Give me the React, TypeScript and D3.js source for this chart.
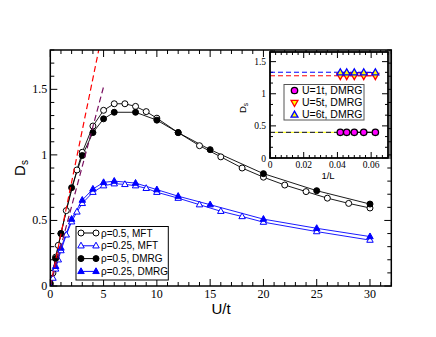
import React from "react";
import * as d3 from "d3";

// main panel data (U/t vs D_s)
const U_MFT05 = [0, 0.25, 0.5, 0.75, 1, 1.5, 2.5, 3, 4, 5, 6, 7, 8, 9, 10, 12, 14, 16, 18, 20, 22, 24, 26, 28, 30];
const D_MFT05 = [0, 0.1, 0.22, 0.31, 0.4, 0.575, 0.885, 1.02, 1.22, 1.34, 1.39, 1.39, 1.37, 1.33, 1.28, 1.17, 1.07, 0.985, 0.9, 0.83, 0.77, 0.72, 0.67, 0.63, 0.595];
const U_MFT025 = [0, 0.25, 0.5, 0.75, 1, 1.5, 2, 2.5, 3, 4, 5, 6, 7, 8, 9, 10, 12, 14, 16, 18, 20, 25, 30];
const D_MFT025 = [0, 0.06, 0.13, 0.2, 0.27, 0.39, 0.49, 0.565, 0.63, 0.715, 0.765, 0.78, 0.775, 0.765, 0.745, 0.715, 0.67, 0.62, 0.57, 0.53, 0.487, 0.415, 0.35];
const U_DMRG05 = [0, 0.5, 1, 2, 3, 4, 5, 6, 8, 10, 12, 15, 20, 25, 30];
const D_DMRG05 = [0.02, 0.21, 0.4, 0.75, 0.995, 1.17, 1.275, 1.325, 1.325, 1.265, 1.17, 1.04, 0.857, 0.727, 0.625];
const U_DMRG025 = [0, 0.5, 1, 2, 3, 4, 5, 6, 8, 10, 12, 15, 20, 25, 30];
const D_DMRG025 = [0, 0.15, 0.29, 0.51, 0.655, 0.74, 0.79, 0.8, 0.785, 0.735, 0.685, 0.62, 0.51, 0.44, 0.377];

// dashed guide lines (start, end)
const redGuideU = [0, 5];
const redGuideD = [0, 1.98];
const purpleGuideU = [0, 5];
const purpleGuideD = [0, 1.52];

const legendLabels = ["ρ=0.5, MFT", "ρ=0.25, MFT", "ρ=0.5, DMRG", "ρ=0.25, DMRG"];

// inset data (1/L vs D_s)
const invL = [0.0417, 0.0455, 0.05, 0.0556, 0.0625];
const D_U1 = [0.4, 0.4, 0.4, 0.4, 0.4];
const D_U5 = [1.28, 1.28, 1.28, 1.28, 1.28];
const D_U6 = [1.33, 1.33, 1.33, 1.33, 1.33];
const extrapU1 = 0.4;
const extrapU5 = 1.28;
const extrapU6 = 1.335;
const insetLabels = ["U=1t, DMRG", "U=5t, DMRG", "U=6t, DMRG"];

const SANS = "'Liberation Sans', Arial, sans-serif";
const SERIF = "'Liberation Serif', 'Times New Roman', serif";

type Shape = "circle" | "up" | "down";

function Marker({ x, y, shape, fill, stroke, r = 3, sw = 1 }: { x: number; y: number; shape: Shape; fill: string; stroke: string; r?: number; sw?: number }) {
  if (shape === "circle") return <circle cx={x} cy={y} r={r} fill={fill} stroke={stroke} strokeWidth={sw} />;
  const s = r * 1.2;
  const pts = shape === "up"
    ? [[0, -s], [s * 0.9, s * 0.6], [-s * 0.9, s * 0.6]]
    : [[0, s], [s * 0.9, -s * 0.6], [-s * 0.9, -s * 0.6]];
  return <polygon points={pts.map(p => `${x + p[0]},${y + p[1]}`).join(" ")} fill={fill} stroke={stroke} strokeWidth={sw} strokeLinejoin="miter" />;
}

function rng(a: number, b: number, step: number) {
  const n = Math.round((b - a) / step);
  return d3.range(n + 1).map(i => +(a + i * step).toFixed(6));
}

export default function App() {
  const W = 436, H = 337;
  const x = d3.scaleLinear().domain([0, 32]).range([50.3, 391.3]);
  const y = d3.scaleLinear().domain([0, 1.8]).range([286, 50]);
  const line = (us: number[], ds: number[]) =>
    d3.line<number>().x((_, i) => x(us[i])).y((_, i) => y(ds[i]))(us) || "";

  const xMajor = rng(0, 30, 5);
  const xMinor = rng(0, 32, 1).filter(v => v % 5 !== 0);
  const yMajor = rng(0, 1.5, 0.5);
  const yMinor = rng(0, 1.8, 0.1).filter(v => Math.abs(v / 0.5 - Math.round(v / 0.5)) > 1e-6);

  const series = [
    { us: U_MFT05, ds: D_MFT05, shape: "circle" as Shape, fill: "#fff", color: "#000" },
    { us: U_MFT025, ds: D_MFT025, shape: "up" as Shape, fill: "#fff", color: "#0000ff" },
    { us: U_DMRG05, ds: D_DMRG05, shape: "circle" as Shape, fill: "#000", color: "#000" },
    { us: U_DMRG025, ds: D_DMRG025, shape: "up" as Shape, fill: "#0000ff", color: "#0000ff" },
  ];

  // inset scales
  const ix = d3.scaleLinear().domain([0, 0.07]).range([270, 388]);
  const iy = d3.scaleLinear().domain([0, 1.65]).range([158, 52]);
  const ixMajor = [0, 0.02, 0.04, 0.06];
  const ixMinor = rng(0, 0.07, 0.02 / 6).filter(v => Math.abs(v / 0.02 - Math.round(v / 0.02)) > 1e-6);
  const iyMajor = [0, 0.5, 1, 1.5];
  const iyMinor = rng(0, 1.65, 0.5 / 3).filter(v => Math.abs(v / 0.5 - Math.round(v / 0.5)) > 1e-6);
  const iline = (ds: number[]) => d3.line<number>().x((_, i) => ix(invL[i])).y((_, i) => iy(ds[i]))(invL) || "";
  const insetSeries = [
    { ds: D_U1, shape: "circle" as Shape, fill: "#ff00ff", stroke: "#000", line: "#000" },
    { ds: D_U5, shape: "down" as Shape, fill: "#ffff00", stroke: "#ff0000", line: "#ff0000" },
    { ds: D_U6, shape: "up" as Shape, fill: "#ffff00", stroke: "#0000ff", line: "#0000ff" },
  ];

  const [x0, x1] = x.range();
  const [y0, y1] = y.range();

  return (
    <div style={{ position: "fixed", left: 0, top: 0 }}>
      <svg width={W} height={H} style={{ display: "block", background: "#fff" }}>
        <defs>
          <clipPath id="mainClip">
            <rect x={x0} y={y1} width={x1 - x0} height={y0 - y1} />
          </clipPath>
        </defs>

        {/* ticks, main */}
        <g stroke="#000" strokeWidth={1}>
          {xMajor.map(v => (
            <g key={"xM" + v}>
              <line x1={x(v)} x2={x(v)} y1={y0} y2={y0 - 7} />
              <line x1={x(v)} x2={x(v)} y1={y1} y2={y1 + 7} />
            </g>
          ))}
          {xMinor.map(v => (
            <g key={"xm" + v}>
              <line x1={x(v)} x2={x(v)} y1={y0} y2={y0 - 4} />
              <line x1={x(v)} x2={x(v)} y1={y1} y2={y1 + 4} />
            </g>
          ))}
          {yMajor.map(v => (
            <g key={"yM" + v}>
              <line x1={x0} x2={x0 + 7} y1={y(v)} y2={y(v)} />
              <line x1={x1} x2={x1 - 7} y1={y(v)} y2={y(v)} />
            </g>
          ))}
          {yMinor.map(v => (
            <g key={"ym" + v}>
              <line x1={x0} x2={x0 + 4} y1={y(v)} y2={y(v)} />
              <line x1={x1} x2={x1 - 4} y1={y(v)} y2={y(v)} />
            </g>
          ))}
        </g>
        <g fontFamily={SERIF} fontSize={12} fill="#000">
          {xMajor.map(v => (
            <text key={"xl" + v} x={x(v)} y={y0 + 12} textAnchor="middle">{v}</text>
          ))}
          {yMajor.map(v => (
            <text key={"yl" + v} x={x0 - 3} y={y(v) + 4} textAnchor="end">{v}</text>
          ))}
        </g>
        <text x={221} y={314} fontFamily={SANS} fontSize={15} textAnchor="middle">U/t</text>
        <text transform={`translate(25,${168}) rotate(-90)`} fontFamily={SANS} fontSize={15} textAnchor="middle">
          D<tspan fontSize={10} dy={3}>s</tspan>
        </text>

        {/* series */}
        <g clipPath="url(#mainClip)">
          {series.map((s, i) => (
            <path key={"l" + i} d={line(s.us, s.ds)} fill="none" stroke={s.color} strokeWidth={0.9} />
          ))}
          {series.map((s, i) =>
            s.us.map((u, j) => (
              <Marker key={"m" + i + "-" + j} x={x(u)} y={y(s.ds[j])} shape={s.shape} fill={s.fill} stroke={s.color} />
            ))
          )}
          <path d={line(redGuideU, redGuideD)} fill="none" stroke="#ff0000" strokeWidth={1.2} strokeDasharray="6,3.5" />
          <path d={line(purpleGuideU, purpleGuideD)} fill="none" stroke="#7a1060" strokeWidth={1.2} strokeDasharray="6,3.5" />
        </g>

        <rect x={x0} y={y1} width={x1 - x0} height={y0 - y1} fill="none" stroke="#000" strokeWidth={1.5} />

        {/* legend */}
        <g>
          <rect x={76} y={226.5} width={92.3} height={53.5} fill="#fff" stroke="#000" strokeWidth={1} />
          {legendLabels.map((lab, i) => {
            const s = series[i];
            const ly = 233 + i * 12.8;
            return (
              <g key={"lg" + i}>
                <line x1={81} x2={96} y1={ly} y2={ly} stroke={s.color} strokeWidth={1} />
                <Marker x={81} y={ly} shape={s.shape} fill={s.fill} stroke={s.color} />
                <Marker x={96} y={ly} shape={s.shape} fill={s.fill} stroke={s.color} />
                <text x={101} y={ly + 3.5} fontFamily={SANS} fontSize={10}>{lab}</text>
              </g>
            );
          })}
        </g>

        {/* inset */}
        <g>
          <rect x={270} y={52} width={118} height={106} fill="#fff" stroke="none" />
          <g stroke="#000" strokeWidth={1}>
            {ixMajor.map(v => (
              <g key={"ixM" + v}>
                <line x1={ix(v)} x2={ix(v)} y1={158} y2={152} />
                <line x1={ix(v)} x2={ix(v)} y1={52} y2={58} />
              </g>
            ))}
            {ixMinor.map(v => (
              <g key={"ixm" + v}>
                <line x1={ix(v)} x2={ix(v)} y1={158} y2={155} />
                <line x1={ix(v)} x2={ix(v)} y1={52} y2={55} />
              </g>
            ))}
            {iyMajor.map(v => (
              <g key={"iyM" + v}>
                <line x1={270} x2={276} y1={iy(v)} y2={iy(v)} />
                <line x1={388} x2={382} y1={iy(v)} y2={iy(v)} />
              </g>
            ))}
            {iyMinor.map(v => (
              <g key={"iym" + v}>
                <line x1={270} x2={273} y1={iy(v)} y2={iy(v)} />
                <line x1={388} x2={385} y1={iy(v)} y2={iy(v)} />
              </g>
            ))}
          </g>
          <g fontFamily={SERIF} fontSize={9.5} fill="#000">
            {ixMajor.map(v => (
              <text key={"ixl" + v} x={ix(v)} y={168} textAnchor="middle">{v}</text>
            ))}
            {iyMajor.map(v => (
              <text key={"iyl" + v} x={266} y={iy(v) + 3.5} textAnchor="end">{v}</text>
            ))}
          </g>
          <text x={328} y={179} fontFamily={SANS} fontSize={9.5} textAnchor="middle">1/L</text>
          <text transform="translate(246,108) rotate(-90)" fontFamily={SANS} fontSize={9.5} textAnchor="middle">
            D<tspan fontSize={6.5} dy={2}>s</tspan>
          </text>

          <line x1={ix(0)} x2={ix(invL[4])} y1={iy(extrapU6)} y2={iy(extrapU6)} stroke="#0000ff" strokeWidth={1} strokeDasharray="5,3" />
          <line x1={ix(0)} x2={ix(invL[4])} y1={iy(extrapU5)} y2={iy(extrapU5)} stroke="#ff0000" strokeWidth={1} strokeDasharray="5,3" />
          <line x1={ix(0)} x2={ix(invL[4])} y1={iy(extrapU1)} y2={iy(extrapU1)} stroke="#000" strokeWidth={1} strokeDasharray="5,3" />
          <line x1={ix(0) + 5} x2={ix(invL[4])} y1={iy(extrapU1)} y2={iy(extrapU1)} stroke="#ffff00" strokeWidth={1} strokeDasharray="3,5" />

          {insetSeries.map((s, i) => (
            <path key={"il" + i} d={iline(s.ds)} fill="none" stroke={s.line} strokeWidth={1} />
          ))}
          {insetSeries.map((s, i) =>
            invL.map((v, j) => (
              <Marker key={"im" + i + "-" + j} x={ix(v)} y={iy(s.ds[j])} shape={s.shape} fill={s.fill} stroke={s.stroke} r={3.2} sw={1.3} />
            ))
          )}

          {/* inset legend */}
          <rect x={284} y={84.5} width={80} height={35.5} fill="#fff" stroke="#555" strokeWidth={1} />
          {insetLabels.map((lab, i) => {
            const s = insetSeries[i];
            const ly = 90.5 + i * 12.2;
            return (
              <g key={"ilg" + i}>
                <Marker x={294.5} y={ly} shape={s.shape} fill={s.fill} stroke={s.stroke} r={3.2} sw={1.3} />
                <text x={302} y={ly + 3.5} fontFamily={SANS} fontSize={10.5}>{lab}</text>
              </g>
            );
          })}

          <rect x={270} y={52} width={118} height={106} fill="none" stroke="#000" strokeWidth={1.8} />
          <line x1={390} x2={390} y1={50} y2={159} stroke="#000" strokeWidth={1} />
        </g>
      </svg>
    </div>
  );
}
